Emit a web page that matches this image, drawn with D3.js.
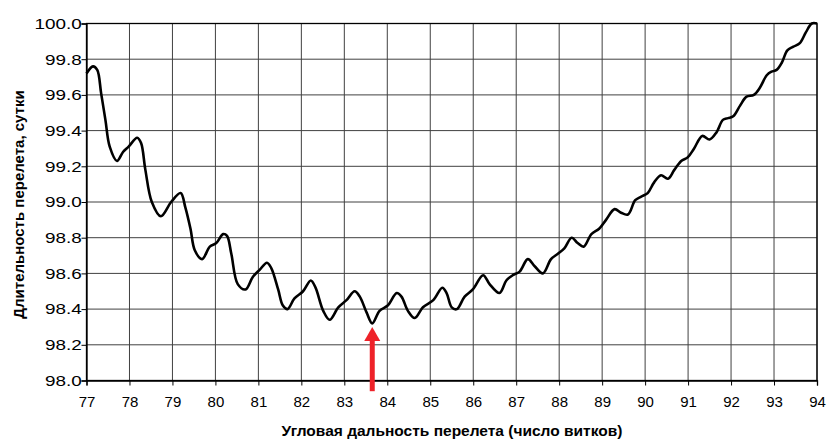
<!DOCTYPE html>
<html>
<head>
<meta charset="utf-8">
<script src="https://cdn.jsdelivr.net/npm/d3@7"></script>
<style>
  body { margin: 0; background: #fff; }
  svg { display: block; font-family: Arial, "Liberation Sans", sans-serif; }
</style>
</head>
<body>
<svg width="827" height="439"></svg>
<script>
// orbit count (x) and flight duration in days (y)
const turns = [77.0, 77.15, 77.25, 77.34, 77.44, 77.54, 77.71, 77.85, 77.98, 78.18, 78.27, 78.37, 78.52, 78.73, 78.97,
  79.19, 79.30, 79.42, 79.52, 79.69, 79.87, 80.02, 80.18, 80.27, 80.37, 80.52, 80.70, 80.87, 81.03, 81.20,
  81.30, 81.46, 81.57, 81.68, 81.84, 82.04, 82.22, 82.33, 82.51, 82.66, 82.86, 83.05, 83.24, 83.36, 83.52,
  83.65, 83.82, 84.01, 84.22, 84.33, 84.48, 84.64, 84.83, 85.07, 85.28, 85.38, 85.50, 85.62, 85.80, 85.99,
  86.23, 86.38, 86.61, 86.77, 86.92, 87.08, 87.27, 87.43, 87.62, 87.81, 87.97, 88.12, 88.29, 88.43, 88.57,
  88.75, 88.93, 89.09, 89.29, 89.44, 89.60, 89.77, 89.91, 90.06, 90.21, 90.37, 90.53, 90.68, 90.84, 90.99,
  91.14, 91.33, 91.50, 91.66, 91.81, 91.93, 92.05, 92.21, 92.36, 92.53, 92.67, 92.83, 92.94, 93.06, 93.18,
  93.31, 93.45, 93.60, 93.74, 93.88, 94.0]
const days = [99.72, 99.76, 99.74, 99.61, 99.46, 99.31, 99.23, 99.28, 99.31, 99.36, 99.33, 99.18, 99.00, 98.92, 99.00,
  99.05, 98.97, 98.85, 98.73, 98.68, 98.75, 98.77, 98.82, 98.81, 98.71, 98.54, 98.51, 98.58, 98.62, 98.66,
  98.63, 98.51, 98.42, 98.40, 98.46, 98.50, 98.56, 98.52, 98.39, 98.34, 98.41, 98.45, 98.50, 98.47, 98.38,
  98.32, 98.39, 98.42, 98.49, 98.47, 98.39, 98.35, 98.41, 98.45, 98.52, 98.49, 98.41, 98.40, 98.47, 98.51,
  98.59, 98.54, 98.49, 98.56, 98.59, 98.61, 98.68, 98.64, 98.60, 98.68, 98.71, 98.74, 98.80, 98.77, 98.75,
  98.82, 98.85, 98.90, 98.96, 98.94, 98.93, 99.01, 99.03, 99.05, 99.11, 99.15, 99.13, 99.18, 99.23, 99.25,
  99.30, 99.37, 99.35, 99.39, 99.46, 99.47, 99.48, 99.54, 99.59, 99.60, 99.64, 99.71, 99.73, 99.74, 99.78,
  99.85, 99.87, 99.89, 99.95, 100.0, 100.0]

const xTicks = d3.range(77, 95, 1)
const yTicks = d3.range(98.0, 100.01, 0.2)

// red arrow marking the minimum
const arrowTurn = 83.65
const arrowFrom = 97.94
const arrowTo = 98.30

const margin = {top: 23.5, right: 10, bottom: 58.5, left: 86.5}
const svg = d3.select('svg')
const width = +svg.attr('width') - margin.left - margin.right
const height = +svg.attr('height') - margin.top - margin.bottom

const x = d3.scaleLinear().domain([77, 94]).range([margin.left, margin.left + width])
const y = d3.scaleLinear().domain([98, 100]).range([margin.top + height, margin.top])

// grid
svg.append('g').selectAll('line')
  .data(xTicks)
  .join('line')
  .attr('x1', d => x(d)).attr('x2', d => x(d))
  .attr('y1', y(98)).attr('y2', y(100))
  .attr('stroke', '#404040')
  .attr('stroke-width', 1)

svg.append('g').selectAll('line')
  .data(yTicks)
  .join('line')
  .attr('x1', x(77)).attr('x2', x(94))
  .attr('y1', d => y(d)).attr('y2', d => y(d))
  .attr('stroke', '#404040')
  .attr('stroke-width', 1)

svg.append('rect')
  .attr('x', x(77)).attr('y', y(100))
  .attr('width', x(94) - x(77)).attr('height', y(98) - y(100))
  .attr('fill', 'none')
  .attr('stroke', '#000')
  .attr('stroke-width', 1.3)

// axes
const xAxis = svg.append('g')
  .attr('transform', `translate(0, ${y(98)})`)
  .call(d3.axisBottom(x).tickValues(xTicks).tickFormat(d3.format('d')).tickSize(5).tickPadding(11))
const yAxis = svg.append('g')
  .attr('transform', `translate(${x(77)}, 0)`)
  .call(d3.axisLeft(y).tickValues(yTicks).tickFormat(d3.format('.1f')).tickSize(5))

;[xAxis, yAxis].forEach(g => {
  g.select('.domain').attr('stroke', '#000').attr('stroke-width', 1.3)
  g.selectAll('.tick line').attr('stroke', '#000')
  g.selectAll('.tick text')
    .attr('fill', '#000')
    .style('font-size', '15px')
    .style('font-family', 'Arial, "Liberation Sans", sans-serif')
})

// y labels are drawn wider in the original
yAxis.selectAll('.tick text')
  .attr('x', -3.8)
  .attr('transform', 'scale(1.26,1)')

// curve
const line = d3.line()
  .x(d => x(d[0]))
  .y(d => y(d[1]))
  .curve(d3.curveCatmullRom.alpha(0.5))

svg.append('path')
  .datum(d3.zip(turns, days))
  .attr('d', line)
  .attr('fill', 'none')
  .attr('stroke', '#000')
  .attr('stroke-width', 2.6)
  .attr('stroke-linejoin', 'round')

// arrow
const ax = x(arrowTurn)
const headLen = 14
svg.append('line')
  .attr('x1', ax).attr('x2', ax)
  .attr('y1', y(arrowFrom)).attr('y2', y(arrowTo) + headLen - 1)
  .attr('stroke', '#ee2229')
  .attr('stroke-width', 5)
svg.append('path')
  .attr('d', `M${ax},${y(arrowTo)} L${ax - 8},${y(arrowTo) + headLen} L${ax + 8},${y(arrowTo) + headLen} Z`)
  .attr('fill', '#ee2229')

// titles
svg.append('text')
  .attr('x', 452).attr('y', 436)
  .attr('text-anchor', 'middle')
  .style('font-size', '15.5px')
  .style('font-weight', 'bold')
  .text('Угловая дальность перелета (число витков)')

svg.append('text')
  .attr('transform', `translate(24, 204.5) rotate(-90)`)
  .attr('text-anchor', 'middle')
  .style('font-size', '15px')
  .style('font-weight', 'bold')
  .text('Длительность перелета, сутки')
</script>
</body>
</html>
